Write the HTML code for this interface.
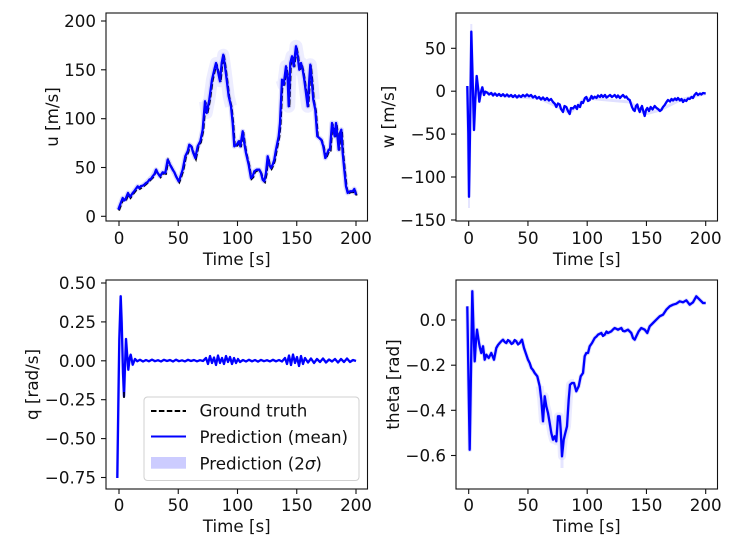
<!DOCTYPE html>
<html><head><meta charset="utf-8"><style>
html,body{margin:0;padding:0;background:#fff;}
svg{display:block;}
text{font-family:"DejaVu Sans","Liberation Sans",sans-serif;font-size:16.7px;fill:#111;}
.tk{stroke:#111;stroke-width:1.1;}
.ax{fill:none;stroke:#111;stroke-width:1.1;}
.band{fill:none;stroke:#ccccff;stroke-linejoin:round;stroke-linecap:butt;}
.gt{fill:none;stroke:#000;stroke-width:2;stroke-dasharray:5.5 2.4;}
.pm{fill:none;stroke:#0000ff;stroke-width:2.3;stroke-linejoin:round;}
</style></head><body>
<svg width="736" height="546" viewBox="0 0 736 546" xmlns="http://www.w3.org/2000/svg">
<rect width="736" height="546" fill="#fff"/>

<!-- ===== TL: u ===== -->
<g>
<polyline class="band" stroke-width="5" stroke-opacity="0.7" points="118.3,209.7 122.7,198 125.3,199.7 128,193 130,197 132.7,193 135.3,189.7 137.7,186.3 139.3,188 142.7,185.7 146,183 149.3,179.7 152.7,176.3 156,169.7 157.7,173 160,176.3 162.7,172.3 165.3,173 167.7,159.7 170,164.7 172.7,169.7 176,176.3 178.7,181.3 180,178 182.7,169.7 185.3,156.3 187.7,151.3 189.3,144.7 191.3,146.3 193.3,153 195.3,158 197.7,146.3 200.3,141.3 202.7,129.7 205,101.3 206.7,113 209.3,99.7 212,79.7 214.3,69.7 216,63 218.3,73 220,81.3 221.7,63 223.3,54.7 225,66.3 226.7,79.7 228.7,96.3 231,106.3 232.7,123 234.3,146.3 236.7,144.7 238.7,141.3 240.3,146.3 242.7,131.3 244.3,143 246,153 248.7,164.7 251,178 252.7,176.3 254.3,171.3 256.7,169.7 259.3,169.7 261,173 262.7,179.7 264.3,181.3 266,173 267.7,156.3 269.3,164.7 271,168 272.7,164.7 274.3,159.7 276,149.7 278.7,136.3 280,123 282,79.7 283.7,84.7 286,66.3 287.7,79.7 288.7,106.3 290.3,63 292,56.3 293.7,66.3 296,46.3 297.7,56.3 299.3,69.7 301,63 302.7,69.7 304.3,79.7 306,93 307.7,106.3 309.3,79.7 310.3,64.7 311.7,79.7 313.3,99.7 315.3,109.7 317.3,136.3 319.3,138 321.3,139.7 323.3,146.3 325.3,158 326.7,154.7 328.7,149.7 330,149.7 332,123 333.3,129.7 334.7,136.3 336,123 337.3,134.7 338.7,149.7 340,133 341.3,129.7 342.7,153 344.3,169.7 346,186.3 347.7,193 350,191.3 352.7,191.3 354.3,189 356,194.7"/>
<polyline class="band" stroke-width="12" stroke-opacity="0.35" points="205,101.3 206.7,113 209.3,99.7 212,79.7 214.3,69.7 216,63 218.3,73 220,81.3 221.7,63 223.3,54.7 225,66.3 226.7,79.7 228.7,96.3 231,106.3"/>
<polyline class="band" stroke-width="13" stroke-opacity="0.35" points="282,79.7 283.7,84.7 286,66.3 287.7,79.7 288.7,106.3 290.3,63 292,56.3 293.7,66.3 296,46.3 297.7,56.3 299.3,69.7 301,63 302.7,69.7 304.3,79.7 306,93 307.7,106.3 309.3,79.7 310.3,64.7 311.7,79.7 313.3,99.7"/>
<polyline class="gt" transform="translate(0.6,0.8)" points="118.3,209.7 122.7,198 125.3,199.7 128,193 130,197 132.7,193 135.3,189.7 137.7,186.3 139.3,188 142.7,185.7 146,183 149.3,179.7 152.7,176.3 156,169.7 157.7,173 160,176.3 162.7,172.3 165.3,173 167.7,159.7 170,164.7 172.7,169.7 176,176.3 178.7,181.3 180,178 182.7,169.7 185.3,156.3 187.7,151.3 189.3,144.7 191.3,146.3 193.3,153 195.3,158 197.7,146.3 200.3,141.3 202.7,129.7 205,101.3 206.7,113 209.3,99.7 212,79.7 214.3,69.7 216,63 218.3,73 220,81.3 221.7,63 223.3,54.7 225,66.3 226.7,79.7 228.7,96.3 231,106.3 232.7,123 234.3,146.3 236.7,144.7 238.7,141.3 240.3,146.3 242.7,131.3 244.3,143 246,153 248.7,164.7 251,178 252.7,176.3 254.3,171.3 256.7,169.7 259.3,169.7 261,173 262.7,179.7 264.3,181.3 266,173 267.7,156.3 269.3,164.7 271,168 272.7,164.7 274.3,159.7 276,149.7 278.7,136.3 280,123 282,79.7 283.7,84.7 286,66.3 287.7,79.7 288.7,106.3 290.3,63 292,56.3 293.7,66.3 296,46.3 297.7,56.3 299.3,69.7 301,63 302.7,69.7 304.3,79.7 306,93 307.7,106.3 309.3,79.7 310.3,64.7 311.7,79.7 313.3,99.7 315.3,109.7 317.3,136.3 319.3,138 321.3,139.7 323.3,146.3 325.3,158 326.7,154.7 328.7,149.7 330,149.7 332,123 333.3,129.7 334.7,136.3 336,123 337.3,134.7 338.7,149.7 340,133 341.3,129.7 342.7,153 344.3,169.7 346,186.3 347.7,193 350,191.3 352.7,191.3 354.3,189 356,194.7"/>
<polyline class="pm" stroke-width="2.8" points="118.3,209.7 120,205 122.7,198 124,200.5 125.3,199.7 128,193 130,197 132.7,193 134,191.5 135.3,189.7 137.7,186.3 139.3,188 141,186 142.7,185.7 144.5,184.5 146,183 147.7,182 149.3,179.7 151,178.8 152.7,176.3 154.5,174 156,169.7 157.7,173 160,176.3 162.7,172.3 165.3,173 167.7,159.7 170,164.7 172.7,169.7 174.5,172.5 176,176.3 178.7,181.3 180,178 182.7,169.7 184,163 185.3,156.3 187.7,151.3 189.3,144.7 191.3,146.3 193.3,153 195.3,158 197.7,146.3 200.3,141.3 202.7,129.7 205,101.3 206.7,113 209.3,99.7 212,79.7 214.3,69.7 216,63 218.3,73 220,81.3 221.7,63 223.3,54.7 225,66.3 226.7,79.7 228.7,96.3 231,106.3 232.7,123 234.3,146.3 236.7,144.7 238.7,141.3 240.3,146.3 242.7,131.3 244.3,143 246,153 248.7,164.7 251,178 252.7,176.3 254.3,171.3 256.7,169.7 259.3,169.7 261,173 262.7,179.7 264.3,181.3 266,173 267.7,156.3 269.3,164.7 271,168 272.7,164.7 274.3,159.7 276,149.7 278.7,136.3 280,123 282,79.7 283.7,84.7 286,66.3 287.7,79.7 288.7,106.3 290.3,63 292,56.3 293.7,66.3 296,46.3 297.7,56.3 299.3,69.7 301,63 302.7,69.7 304.3,79.7 306,93 307.7,106.3 309.3,79.7 310.3,64.7 311.7,79.7 313.3,99.7 315.3,109.7 317.3,136.3 319.3,138 321.3,139.7 323.3,146.3 325.3,158 326.7,154.7 328.7,149.7 330,149.7 332,123 333.3,129.7 334.7,136.3 336,123 337.3,134.7 338.7,149.7 340,133 341.3,129.7 342.7,153 344.3,169.7 346,186.3 347.7,193 350,191.3 352.7,191.3 354.3,189 356,194.7"/>
<rect class="ax" x="106" y="13" width="261.5" height="208"/>
<g class="tk">
<line x1="119" y1="221" x2="119" y2="226"/><line x1="178.25" y1="221" x2="178.25" y2="226"/><line x1="237.5" y1="221" x2="237.5" y2="226"/><line x1="296.75" y1="221" x2="296.75" y2="226"/><line x1="356" y1="221" x2="356" y2="226"/>
<line x1="101" y1="216.3" x2="106" y2="216.3"/><line x1="101" y1="167.5" x2="106" y2="167.5"/><line x1="101" y1="118.7" x2="106" y2="118.7"/><line x1="101" y1="69.8" x2="106" y2="69.8"/><line x1="101" y1="21" x2="106" y2="21"/>
</g>
<g text-anchor="middle" dominant-baseline="central">
<text x="119" y="238">0</text><text x="178.25" y="238">50</text><text x="237.5" y="238">100</text><text x="296.75" y="238">150</text><text x="356" y="238">200</text>
<text x="236.75" y="259">Time [s]</text>
</g>
<g text-anchor="end" dominant-baseline="central">
<text x="96" y="216.3">0</text><text x="96" y="167.5">50</text><text x="96" y="118.7">100</text><text x="96" y="69.8">150</text><text x="96" y="21">200</text>
</g>
<text transform="translate(52,117) rotate(-90)" text-anchor="middle" dominant-baseline="central">u [m/s]</text>
</g>

<!-- ===== TR: w ===== -->
<g>
<polyline class="band" stroke-width="3" stroke-opacity="0.6" points="467.3,86 469,196.7 470,133.3 471.3,31.7 472.3,66.7 474,130 475.3,100 476.7,76 478.3,90 479.3,101.7 481,91.7 482.3,87.3 484,95 485.3,91.7 487.3,92.7 505,96 540,98.5 556,106 570,113 585,98 630,102 645,114 660,110 680,100 705.7,93.5"/>
<line x1="469" y1="208" x2="469" y2="194" stroke="#ccccff" stroke-opacity="0.5" stroke-width="2"/>
<line x1="471.3" y1="24" x2="471.3" y2="34" stroke="#ccccff" stroke-opacity="0.5" stroke-width="2"/>
<polyline class="pm" points="467.3,86 468.3,133.3 469,196.7 470,133.3 471.3,31.7 472.3,66.7 474,130 475.3,100 476.7,76 478.3,90 479.3,101.7 481,91.7 482.3,87.3 484,95 485.3,91.7 487.3,92.7 489,94.5 491.3,93 493,95.5 495,93.5 497,95.8 499,94 501,96 503,94.2 505,96.3 507,94.5 509,96.5 511,95 513,97 515,95.2 517,97.5 519,95.5 521,97 523,95 525,96.5 527,94.5 529,96.3 531,95 533,97.5 535,96 537,98.5 539,97 541,99.5 543,97.5 545,100 547,98 549,100.5 551,99 553,102 555,104 556.3,107 558,103.5 559.7,104.5 561,109 563,112 564.5,106 566.3,107 568,111 569.7,114 571,108 573,108.5 575,106 577,109 578,105 580,107 581.5,102 583,103 585,98 586.3,97 588,101 589.7,100 591.5,96 593,98.5 594.7,96.7 596.5,98 598,95.5 600,97 601.3,95 603,97 605,95 606.5,97.5 608,96.5 610,95 612,97 614.7,95 616.5,97.5 618,95.5 620,98 621.3,96.5 623,95 625,97.5 626.3,96.5 628,99 629.7,100 631,104 632,107 633.5,110 634.7,111 636,106 637.3,104.5 638.5,109 639.7,112 641,108 642,106 643.5,112 644.7,116 646,110 647.3,108 649,111 650.7,107 652.5,109.5 654.7,106 656.5,108 658,109 660,111 661.3,110 663,107 664.7,105 666.5,102 668,100 670,101.5 671.5,99 673,100.5 675,98.5 676.5,100 678,98 680,100.5 681.5,99 683,102 684.5,100 686.3,101 688,98.5 689.7,99 691.5,97 693,98 694.5,95 696.3,93 698,95 700,93.5 701.3,94.5 703,93 705.7,93.5"/>
<rect class="ax" x="456" y="13" width="261.5" height="208"/>
<g class="tk">
<line x1="468.7" y1="221" x2="468.7" y2="226"/><line x1="527.95" y1="221" x2="527.95" y2="226"/><line x1="587.2" y1="221" x2="587.2" y2="226"/><line x1="646.45" y1="221" x2="646.45" y2="226"/><line x1="705.7" y1="221" x2="705.7" y2="226"/>
<line x1="451" y1="48.3" x2="456" y2="48.3"/><line x1="451" y1="91.2" x2="456" y2="91.2"/><line x1="451" y1="134.1" x2="456" y2="134.1"/><line x1="451" y1="177" x2="456" y2="177"/><line x1="451" y1="220" x2="456" y2="220"/>
</g>
<g text-anchor="middle" dominant-baseline="central">
<text x="468.7" y="238">0</text><text x="527.95" y="238">50</text><text x="587.2" y="238">100</text><text x="646.45" y="238">150</text><text x="705.7" y="238">200</text>
<text x="586.75" y="259">Time [s]</text>
</g>
<g text-anchor="end" dominant-baseline="central">
<text x="446" y="48.3">50</text><text x="446" y="91.2">0</text><text x="446" y="134.1">−50</text><text x="446" y="177">−100</text><text x="446" y="220">−150</text>
</g>
<text transform="translate(388,117) rotate(-90)" text-anchor="middle" dominant-baseline="central">w [m/s]</text>
</g>

<!-- ===== BL: q ===== -->
<g>
<polyline class="band" stroke-width="3" stroke-opacity="0.6" points="117.3,478 118.3,406.3 119.3,339.7 120.7,296.3 121.7,323 123,373 124,396.3 125,366.3 126,339 127,353 128.3,369.7 129.7,358 130.7,354.7 132.7,364.7 135,359"/>
<polyline class="pm" points="117.3,478 118.3,406.3 119.3,339.7 120.7,296.3 121.7,323 123,373 124,396.3 125,366.3 126,339 127,353 128.3,369.7 129.7,358 130.7,354.7 132.7,364.7 135,359 137.3,361.3 140,359.8 143,361.5 146,360 149,361.3 152,359.6 155,361.2 158,360.2 161,361.5 164,359.8 167,361 170,360 173,361.5 176,359.7 179,361.2 182,360.3 185,361.4 188,359.8 191,361 194,360 197,361.3 200,360.2 203,361 206,358 208,364 210,356 212,363 214,357.5 216,365 218,355.5 220,363 222,358 224,364 226,356 228,362 230,357 232,364 234,358 236,363 238,359 240,362 243,360 246,361.5 249,359.8 252,361.3 255,360 258,361.6 261,359.9 264,361.2 267,360.2 270,361.4 273,359.8 276,361.3 279,360 282,361.5 285,358 287,364 289,355.5 291,365 293,354.5 295,363 297,357 299,366 301,356 303,364 305,358 308,362.5 311,358.5 314,363 317,359 320,362 323,358.5 326,362.5 329,359.5 332,361.5 335,359 338,362.5 341,359 344,362 347,358.5 350,362 353,360 356,361"/>
<line x1="124" y1="392" x2="124" y2="398" stroke="#000" stroke-width="1.5"/>
<rect class="ax" x="106" y="280" width="261.5" height="209"/>
<g class="tk">
<line x1="119" y1="489" x2="119" y2="494"/><line x1="178.25" y1="489" x2="178.25" y2="494"/><line x1="237.5" y1="489" x2="237.5" y2="494"/><line x1="296.75" y1="489" x2="296.75" y2="494"/><line x1="356" y1="489" x2="356" y2="494"/>
<line x1="101" y1="283" x2="106" y2="283"/><line x1="101" y1="321.9" x2="106" y2="321.9"/><line x1="101" y1="360.8" x2="106" y2="360.8"/><line x1="101" y1="399.7" x2="106" y2="399.7"/><line x1="101" y1="438.6" x2="106" y2="438.6"/><line x1="101" y1="477.5" x2="106" y2="477.5"/>
</g>
<g text-anchor="middle" dominant-baseline="central">
<text x="119" y="505">0</text><text x="178.25" y="505">50</text><text x="237.5" y="505">100</text><text x="296.75" y="505">150</text><text x="356" y="505">200</text>
<text x="236.75" y="526">Time [s]</text>
</g>
<g text-anchor="end" dominant-baseline="central">
<text x="96" y="283">0.50</text><text x="96" y="321.9">0.25</text><text x="96" y="360.8">0.00</text><text x="96" y="399.7">−0.25</text><text x="96" y="438.6">−0.50</text><text x="96" y="477.5">−0.75</text>
</g>
<text transform="translate(32,384.5) rotate(-90)" text-anchor="middle" dominant-baseline="central">q [rad/s]</text>
<!-- legend -->
<rect x="144" y="397" width="215" height="83.5" rx="3.5" ry="3.5" fill="#fff" fill-opacity="0.8" stroke="#d0d0d0" stroke-width="1"/>
<line x1="151" y1="411" x2="186" y2="411" stroke="#000" stroke-width="2" stroke-dasharray="5.5 2.4"/>
<line x1="151" y1="436.5" x2="186" y2="436.5" stroke="#0000ff" stroke-width="2"/>
<rect x="151" y="457" width="35" height="11.7" fill="#ccccff"/>
<g dominant-baseline="central">
<text x="199.5" y="410.5">Ground truth</text>
<text x="199.5" y="436.8">Prediction (mean)</text>
<text x="199.5" y="463.3">Prediction (2<tspan font-style="italic">σ</tspan>)</text>
</g>
</g>

<!-- ===== BR: theta ===== -->
<g>
<polyline class="band" stroke-width="4" stroke-opacity="0.7" points="467.3,306.3 469.7,449.7 472.3,291.3 474.7,361.3 477,329.7 479,343 481.3,353 483,346.3 484.7,359.7 486.3,354.7 488.7,358 491.3,353 494,359.7 496.3,348 499.7,343 503,339.7 506.3,343 509.7,341.3 513,343 516.3,341.3 519.7,343 522,339.7 524,348 526.3,354.7 528,359.7 531.3,368 534.7,373 537.3,376.3 539.7,386.3 541.3,399.7 543,421.3 544.7,396.3 546.3,406.3 548,413 549.7,423 551.3,433 553,439.7 554.7,436.3 556.3,441.3 558,416.3 559.7,416.3 560.7,429.7 562,456.3 563.7,439.7 565.3,433 567,426.3 568.7,399.7 570,384.7 572,383 574,383 576.3,391.3 578.7,386.3 580.7,376.3 583,373 584.7,356.3 586.3,353 588,353 589.7,346.3 592,343 594.7,338 598,334.7 601.3,333 604.7,334.7 608,333 611.3,331.3 614.7,328 618,329.7 621.3,328 624.7,331.3 628,329.7 631.3,333 633,338 634.7,339.7 636.3,336.3 638.7,331.3 641.3,328 644.7,329.7 647.3,333 649.7,326.3 653,323 656.3,319.7 659.7,316.3 663,314.7 666.3,309.7 669.7,306.3 673,304.7 676.3,303.7 679.7,301.3 683,302.3 686.3,300.3 689.7,304.7 693,302.3 696.3,296.3 699.7,299.7 703,303 705.7,303"/>
<polyline class="band" stroke-width="8" stroke-opacity="0.4" points="539.7,386.3 541.3,399.7 543,421.3 544.7,396.3 546.3,406.3 548,413 549.7,423 551.3,433 553,439.7 554.7,436.3 556.3,441.3 558,416.3 559.7,416.3 560.7,429.7 562,456.3 563.7,439.7 565.3,433 567,426.3 568.7,399.7 570,384.7 572,383 574,383"/>
<line x1="562" y1="455" x2="562" y2="468" stroke="#ccccff" stroke-opacity="0.5" stroke-width="3"/>
<polyline class="pm" points="467.3,306.3 468.5,380 469.7,449.7 471,370 472.3,291.3 473.5,330 474.7,361.3 476,340 477,329.7 479,343 480,348 481.3,353 483,346.3 484.7,359.7 486.3,354.7 488.7,358 491.3,353 494,359.7 496.3,348 498,345 499.7,343 501.5,341 503,339.7 504.7,342 506.3,343 508,340 509.7,341.3 511.5,344 513,343 514.7,340 516.3,341.3 518,344.5 519.7,343 522,339.7 524,348 526.3,354.7 528,359.7 529.7,363 531.3,368 533,370 534.7,373 537.3,376.3 539.7,386.3 541.3,399.7 543,421.3 544.7,396.3 546.3,406.3 548,413 549.7,423 551.3,433 553,439.7 554.7,436.3 556.3,441.3 558,416.3 559.7,416.3 560.7,429.7 562,456.3 563.7,439.7 565.3,433 567,426.3 568.7,399.7 570,384.7 572,383 574,383 576.3,391.3 578.7,386.3 580.7,376.3 583,373 584.7,356.3 586.3,353 588,353 589.7,346.3 592,343 594.7,338 596.5,336.5 598,334.7 601.3,333 603,336 604.7,334.7 606.5,331.5 608,333 611.3,331.3 613,329.5 614.7,328 618,329.7 621.3,328 623,331 624.7,331.3 628,329.7 631.3,333 633,338 634.7,339.7 636.3,336.3 638.7,331.3 641.3,328 644.7,329.7 647.3,333 649.7,326.3 653,323 656.3,319.7 659.7,316.3 663,314.7 666.3,309.7 669.7,306.3 673,304.7 676.3,303.7 679.7,301.3 683,302.3 686.3,300.3 689.7,304.7 693,302.3 696.3,296.3 699.7,299.7 703,303 705.7,303"/>
<rect class="ax" x="456" y="280" width="261.5" height="209"/>
<g class="tk">
<line x1="468.7" y1="489" x2="468.7" y2="494"/><line x1="527.95" y1="489" x2="527.95" y2="494"/><line x1="587.2" y1="489" x2="587.2" y2="494"/><line x1="646.45" y1="489" x2="646.45" y2="494"/><line x1="705.7" y1="489" x2="705.7" y2="494"/>
<line x1="451" y1="320" x2="456" y2="320"/><line x1="451" y1="365.2" x2="456" y2="365.2"/><line x1="451" y1="410.3" x2="456" y2="410.3"/><line x1="451" y1="455.5" x2="456" y2="455.5"/>
</g>
<g text-anchor="middle" dominant-baseline="central">
<text x="468.7" y="505">0</text><text x="527.95" y="505">50</text><text x="587.2" y="505">100</text><text x="646.45" y="505">150</text><text x="705.7" y="505">200</text>
<text x="586.75" y="526">Time [s]</text>
</g>
<g text-anchor="end" dominant-baseline="central">
<text x="446" y="320">0.0</text><text x="446" y="365.2">−0.2</text><text x="446" y="410.3">−0.4</text><text x="446" y="455.5">−0.6</text>
</g>
<text transform="translate(393,384.5) rotate(-90)" text-anchor="middle" dominant-baseline="central">theta [rad]</text>
</g>
</svg>
</body></html>
